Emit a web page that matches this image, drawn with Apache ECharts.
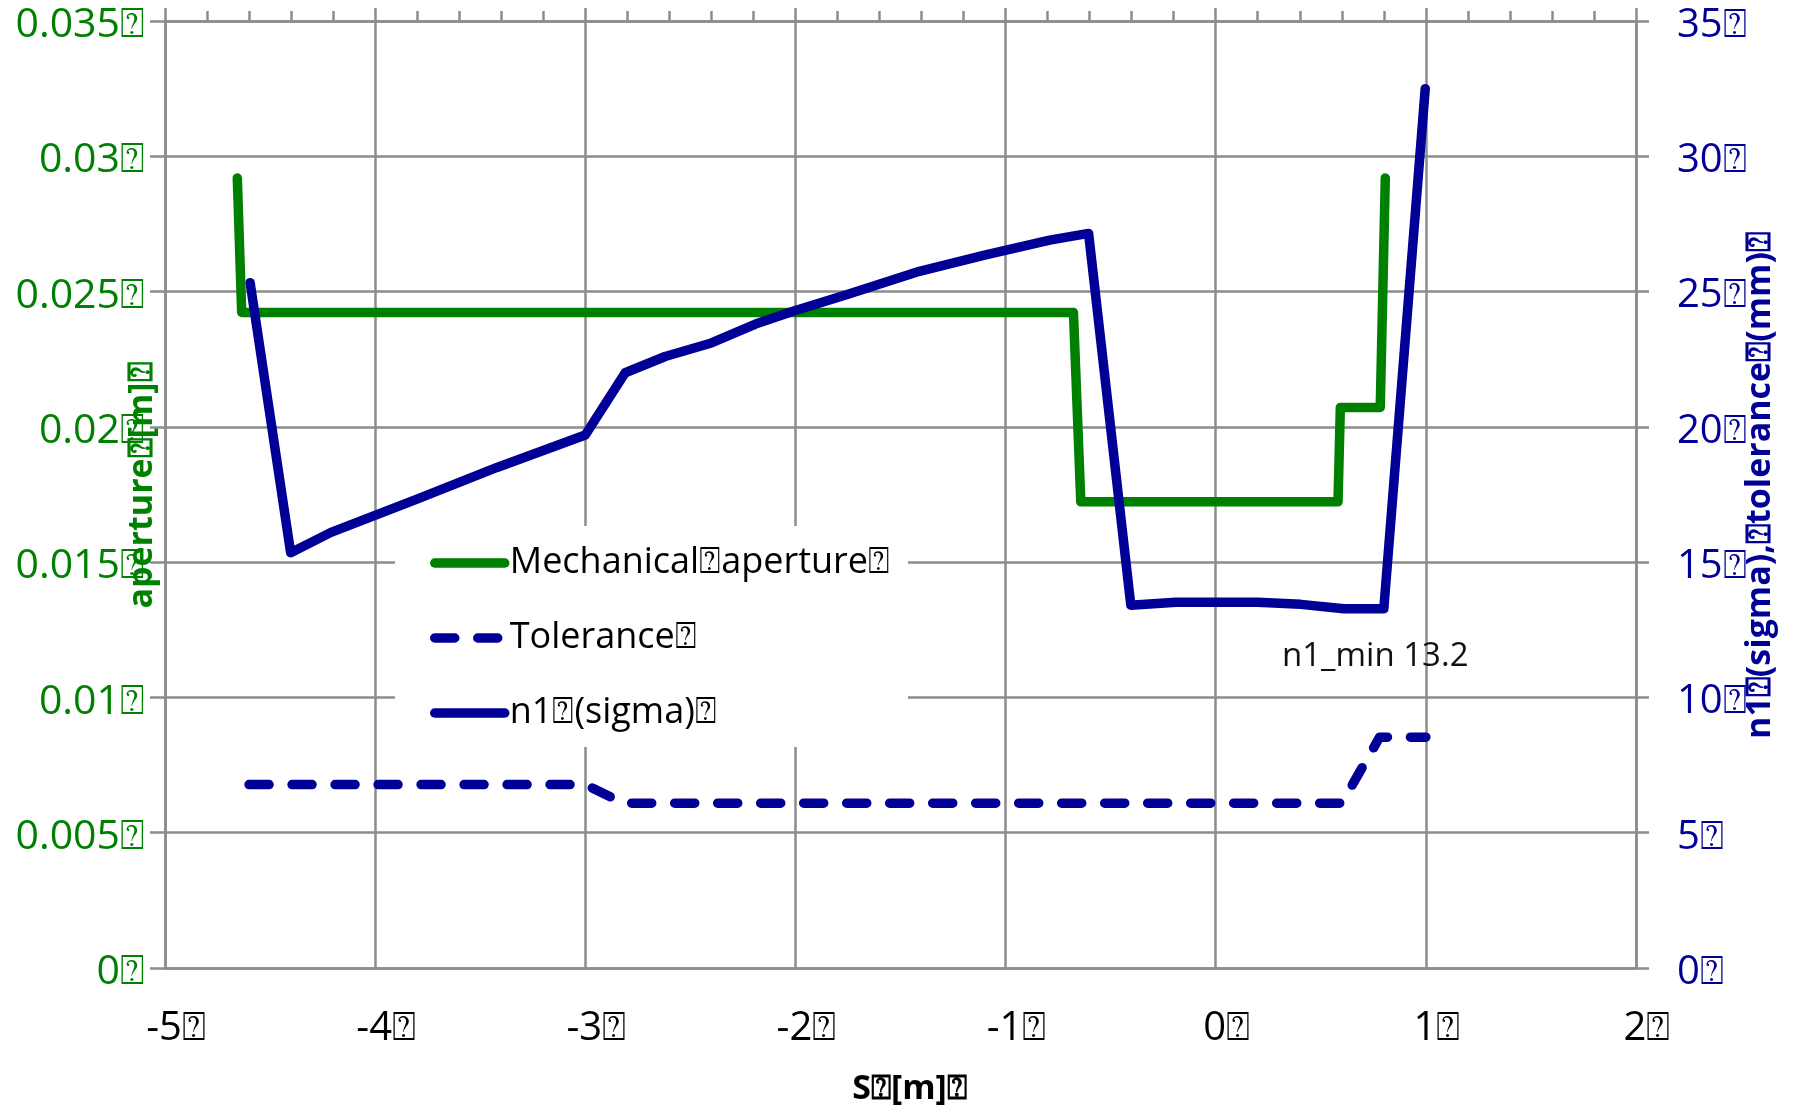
<!DOCTYPE html>
<html>
<head>
<meta charset="utf-8">
<script src="https://cdn.jsdelivr.net/npm/echarts@6/dist/echarts.min.js"></script>
<style>
html,body{margin:0;padding:0;background:#fff;}
#chart{width:1797px;height:1110px;}
</style>
</head>
<body>
<div id="chart"></div>
<script>
// ---- data ----
const TOFU = '\u2370';
const seriesNames = ['Mechanical' + TOFU + 'aperture' + TOFU, 'Tolerance' + TOFU, 'n1' + TOFU + '(sigma)' + TOFU];
const xAxisName = 'S' + TOFU + '[m]' + TOFU;
const leftAxisName = 'aperture' + TOFU + '[m]' + TOFU;
const rightAxisName = 'n1' + TOFU + '(sigma),' + TOFU + 'tolerance' + TOFU + '(mm)' + TOFU;
const annotationText = 'n1_min 13.2';

const apertureS = [-4.656, -4.635, -0.677, -0.642, 0.582, 0.593, 0.783, 0.807];
const apertureM = [0.0292, 0.02423, 0.02423, 0.01723, 0.01723, 0.02072, 0.02072, 0.0292];

const toleranceS = [-4.6, -3.0, -2.82, 0.6, 0.78, 1.0];
const toleranceV = [6.78, 6.78, 6.09, 6.09, 8.53, 8.53];

const n1S = [-4.595, -4.402, -4.21, -3.81, -3.42, -3.0, -2.81, -2.62, -2.4, -2.19, -2.0, -1.75, -1.41, -1.1, -0.79, -0.605, -0.404, -0.19, 0.2, 0.405, 0.61, 0.8, 0.997];
const n1V = [25.33, 15.35, 16.1, 17.3, 18.5, 19.7, 22.0, 22.6, 23.1, 23.8, 24.3, 24.9, 25.75, 26.35, 26.9, 27.15, 13.41, 13.52, 13.52, 13.44, 13.28, 13.28, 32.5];

// ---- styles ----
const GREEN = '#008000';
const BLUE = '#000096';
const GRID = '#8c8c8c';
const FONT = 'Open Sans';
const LW = 9.5;

const zip = (a, b) => a.map((v, i) => [v, b[i]]);

const chart = echarts.init(document.getElementById('chart'), null, {renderer: 'canvas'});
chart.setOption({
  animation: false,
  backgroundColor: '#fff',
  textStyle: {fontFamily: FONT},
  grid: {left: 165, right: 161, top: 21, bottom: 142, containLabel: false, outerBoundsMode: 'none'},
  xAxis: [{
    type: 'value', position: 'bottom', min: -5, max: 2, interval: 1,
    axisLine: {show: true, onZero: false, lineStyle: {color: GRID, width: 2.5}},
    axisTick: {show: false},
    splitLine: {show: true, lineStyle: {color: GRID, width: 2.5}},
    axisLabel: {color: '#000', fontSize: 40, fontFamily: FONT, margin: 41, padding: [0, 0, 0, 22], formatter: v => v + TOFU},
    name: xAxisName, nameLocation: 'middle', nameGap: 104, nameMoveOverlap: false,
    nameTextStyle: {color: '#000', fontSize: 34, fontWeight: 'bold', fontFamily: FONT, padding: [0, 0, 0, 18]}
  }, {
    type: 'value', position: 'top', min: -5, max: 2, interval: 1,
    axisLine: {show: true, onZero: false, lineStyle: {color: GRID, width: 2.5}},
    axisTick: {show: true, inside: false, length: 13, lineStyle: {color: GRID, width: 2.5}},
    minorTick: {show: true, splitNumber: 5, length: 10, lineStyle: {color: GRID, width: 2.5}},
    splitLine: {show: false},
    axisLabel: {show: false}
  }],
  yAxis: [{
    type: 'value', position: 'left', min: 0, max: 0.035, interval: 0.005,
    axisLine: {show: true, onZero: false, lineStyle: {color: GRID, width: 2.5}},
    axisTick: {show: true, inside: false, length: 15, lineStyle: {color: GRID, width: 2.5}},
    splitLine: {show: true, lineStyle: {color: GRID, width: 2.5}},
    axisLabel: {color: GREEN, fontSize: 41, fontFamily: FONT, margin: 20, verticalAlign: 'top', lineHeight: 9, formatter: v => (+v.toFixed(3)) + TOFU},
    name: leftAxisName, nameLocation: 'middle', nameRotate: 90, nameGap: 6, nameMoveOverlap: false,
    nameTextStyle: {color: GREEN, fontSize: 34, fontWeight: 'bold', fontFamily: FONT, padding: [0, 0, 0, 18]}
  }, {
    type: 'value', position: 'right', min: 0, max: 35, interval: 5,
    axisLine: {show: true, onZero: false, lineStyle: {color: GRID, width: 2.5}},
    axisTick: {show: true, inside: false, length: 13, lineStyle: {color: GRID, width: 2.5}},
    splitLine: {show: false},
    axisLabel: {color: BLUE, fontSize: 40, fontFamily: FONT, margin: 41, verticalAlign: 'top', lineHeight: 9, formatter: v => v + TOFU},
    name: rightAxisName, nameLocation: 'middle', nameRotate: 90, nameGap: 107, nameMoveOverlap: false,
    nameTextStyle: {color: BLUE, fontSize: 34, fontWeight: 'bold', fontFamily: FONT, padding: [0, 0, 0, 18]}
  }],
  legend: {
    orient: 'vertical', left: 395, top: 526,
    padding: [15, 18, 12, 35],
    backgroundColor: '#fff',
    itemWidth: 70, itemHeight: 14, itemGap: 31,
    selectedMode: false,
    data: seriesNames,
    itemStyle: {opacity: 0},
    lineStyle: {width: LW, cap: 'round'},
    textStyle: {color: '#000', fontSize: 36, lineHeight: 44, fontFamily: FONT}
  },
  graphic: [{
    type: 'text', x: 1282, y: 657, z: 100,
    style: {text: annotationText, fill: '#111', fontSize: 33, fontFamily: FONT, verticalAlign: 'middle', align: 'left'}
  }],
  series: [{
    name: seriesNames[0], type: 'line', xAxisIndex: 0, yAxisIndex: 0,
    data: zip(apertureS, apertureM), symbol: 'none',
    lineStyle: {color: GREEN, width: LW, cap: 'round', join: 'round'}, itemStyle: {color: GREEN}
  }, {
    name: seriesNames[1], type: 'line', xAxisIndex: 0, yAxisIndex: 1,
    data: zip(toleranceS, toleranceV), symbol: 'none',
    lineStyle: {color: BLUE, width: LW, type: [20, 23], cap: 'round', join: 'round'}, itemStyle: {color: BLUE}
  }, {
    name: seriesNames[2], type: 'line', xAxisIndex: 0, yAxisIndex: 1,
    data: zip(n1S, n1V), symbol: 'none',
    lineStyle: {color: BLUE, width: LW, cap: 'round', join: 'round'}, itemStyle: {color: BLUE}
  }]
});
</script>
</body>
</html>
